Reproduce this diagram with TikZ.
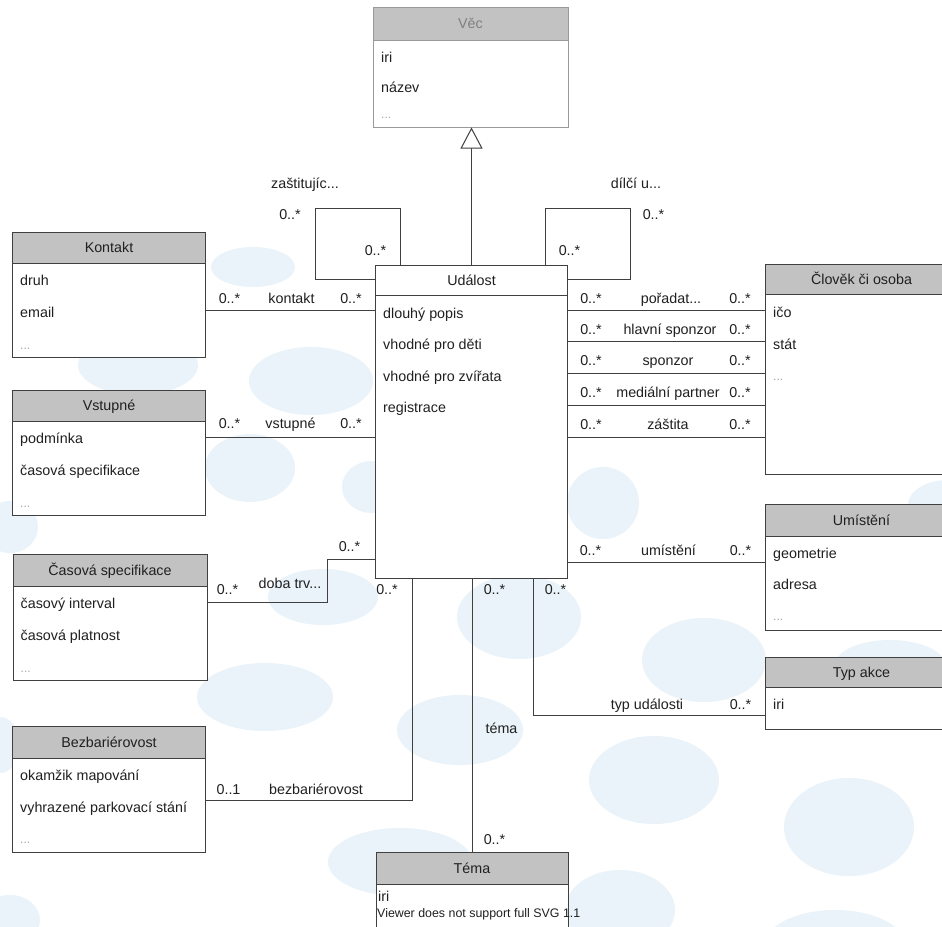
\documentclass[tikz,border=0pt]{standalone}
\usepackage{fontspec}
\setmainfont{Liberation Sans}
\usetikzlibrary{arrows.meta}
\definecolor{blob}{HTML}{E9F3F9}
\definecolor{hdr}{HTML}{C2C2C2}
\definecolor{ln}{HTML}{404040}
\definecolor{txt}{HTML}{202020}
\newcommand\umlclass[8]{%
  \node[box, minimum width=#4pt, minimum height=#5pt] (#1) at (#2,#3) {};
  \draw[draw=ln, line width=1pt, fill=#8] (#1.north west) rectangle ([yshift=-#6pt]#1.north east);
  \node[lbl, anchor=center] (#1-t) at ([yshift=-#6pt/2]#1.north) {#7};
}
\begin{document}
\begin{tikzpicture}[x=1pt,y=-1pt,
  box/.style={draw=ln, line width=1pt, fill=white, rectangle, inner sep=0pt, outer sep=0pt, anchor=north west},
  lbl/.style={inner sep=0pt, text height=10pt, text depth=0pt, font=\fontsize{14.3}{16}\selectfont, text=txt},
  attr/.style={lbl, anchor=west},
  dots/.style={inner sep=0pt, anchor=base west, font=\fontsize{12}{13}\selectfont, text=gray!70},
  conn/.style={draw=ln, line width=1pt},
  bl/.style={fill=blob}]
\useasboundingbox (0,0) rectangle (942,926);
\clip (0,0) rectangle (942,926);
\fill[white] (0,0) rectangle (942,926);
% background blobs
\fill[bl] (138,365) ellipse [x radius=60, y radius=30];
\fill[bl] (253,267) ellipse [x radius=42, y radius=20];
\fill[bl] (311,381) ellipse [x radius=62, y radius=34];
\fill[bl] (250,468) ellipse [x radius=45, y radius=34];
\fill[bl] (372,487) ellipse [x radius=30, y radius=26];
\fill[bl] (10,527) ellipse [x radius=28, y radius=26];
\fill[bl] (323,597) ellipse [x radius=55, y radius=28];
\fill[bl] (265,697) ellipse [x radius=68, y radius=34];
\fill[bl] (460,730) ellipse [x radius=63, y radius=35];
\fill[bl] (519,617) ellipse [x radius=62, y radius=42];
\fill[bl] (603,503) ellipse [x radius=36, y radius=36];
\fill[bl] (704,660) ellipse [x radius=62, y radius=42];
\fill[bl] (890,665) ellipse [x radius=55, y radius=25];
\fill[bl] (948,505) ellipse [x radius=40, y radius=25];
\fill[bl] (654,780) ellipse [x radius=65, y radius=44];
\fill[bl] (849,827) ellipse [x radius=65, y radius=49];
\fill[bl] (400,862) ellipse [x radius=72, y radius=34];
\fill[bl] (620,910) ellipse [x radius=55, y radius=40];
\fill[bl] (835,945) ellipse [x radius=70, y radius=35];
\fill[bl] (0,745) ellipse [x radius=20, y radius=28];
\fill[bl] (10,920) ellipse [x radius=30, y radius=25];

% Vec (gray)
\node[box, draw=gray!80, minimum width=195pt, minimum height=120pt] (vec) at (373,7.5) {};
\draw[draw=gray!80, line width=1pt, fill=hdr] (vec.north west) rectangle ([yshift=-32.5pt]vec.north east);
\node[lbl, anchor=center, text=gray] (vec-t) at ([yshift=-16.25pt]vec.north) {Věc};
\node[attr] at (381,57) {iri};
\node[attr] at (381,87) {název};
\node[dots] at (381,118) {...};

\umlclass{udalost}{375.5}{265}{192}{313}{30}{Událost}{white}
\node[attr] at (383,313) {dlouhý popis};
\node[attr] at (383,344) {vhodné pro děti};
\node[attr] at (383,376) {vhodné pro zvířata};
\node[attr] at (383,407) {registrace};

\umlclass{kontakt}{12.5}{232}{193}{125}{31}{Kontakt}{hdr}
\node[attr] at (20,280) {druh};
\node[attr] at (20,312) {email};
\node[dots] at (20,349) {...};

\umlclass{vstupne}{12.5}{390}{193}{125}{31}{Vstupné}{hdr}
\node[attr] at (20,438) {podmínka};
\node[attr] at (20,470) {časová specifikace};
\node[dots] at (20,507) {...};

\umlclass{casova}{13}{554}{194}{126}{32}{Časová specifikace}{hdr}
\node[attr] at (20.5,603) {časový interval};
\node[attr] at (20.5,635) {časová platnost};
\node[dots] at (20.5,672) {...};

\umlclass{bezbar}{12.5}{726}{193}{126}{32}{Bezbariérovost}{hdr}
\node[attr] at (20,775) {okamžik mapování};
\node[attr] at (20,807) {vyhrazené parkovací stání};
\node[dots] at (20,843) {...};

\umlclass{tema}{376}{852}{192}{100}{32}{Téma}{hdr}
\node[attr] at (378,896) {iri};
\node[inner sep=0pt, anchor=base west, font=\fontsize{12.4}{13}\selectfont, text=txt] at (377,917) {Viewer does not support full SVG 1.1};

\umlclass{clovek}{765.5}{264}{192}{210}{30}{Člověk či osoba}{hdr}
\node[attr] at (773,312) {ičo};
\node[attr] at (773,344) {stát};
\node[dots] at (773,380) {...};

\umlclass{umisteni}{765.5}{504}{192}{126}{32}{Umístění}{hdr}
\node[attr] at (773,553) {geometrie};
\node[attr] at (773,584) {adresa};
\node[dots] at (773,620) {...};

\umlclass{typakce}{765.5}{657}{192}{72}{30}{Typ akce}{hdr}
\node[attr] at (773,704.5) {iri};

% generalization
\draw[conn, -{Triangle[open, length=21pt, width=22pt, fill=white]}] (udalost.north) -- (udalost.north |- vec.south);

% self loops
\draw[conn] (udalost.west |- 0,279) -| (315.5,208) -| (udalost.north -| 400,0);
\node[lbl] at (305,183) {zaštitujíc...};
\node[lbl] at (290,214) {0..*};
\node[lbl] at (375.5,250) {0..*};
\draw[conn] (udalost.north -| 545.5,0) |- (630,208) |- (udalost.east |- 0,279);
\node[lbl] at (636,183) {dílčí u...};
\node[lbl] at (653.5,214) {0..*};
\node[lbl] at (569.5,250) {0..*};

% left associations
\draw[conn] (kontakt.east |- 0,310.6) -- (udalost.west |- 0,310.6);
\node[lbl] at (229.5,298) {0..*};
\node[lbl] at (291.5,298) {kontakt};
\node[lbl] at (351,298) {0..*};

\draw[conn] (vstupne.east |- 0,437) -- (udalost.west |- 0,437);
\node[lbl] at (229.5,423) {0..*};
\node[lbl] at (290.5,423) {vstupné};
\node[lbl] at (351,423) {0..*};

\draw[conn] (casova.east |- 0,602.5) -| (327.5,559) -- (udalost.west |- 0,559);
\node[lbl] at (227.5,589) {0..*};
\node[lbl] at (290,583) {doba trv...};
\node[lbl] at (349.5,546) {0..*};

\draw[conn] (bezbar.east |- 0,800) -| (udalost.south -| 412,0);
\node[lbl] at (228.5,789) {0..1};
\node[lbl] at (316,789) {bezbariérovost};
\node[lbl] at (387,589) {0..*};

% tema
\draw[conn] (udalost.south -| 472,0) -- (tema.north -| 472,0);
\node[lbl] at (494.5,589) {0..*};
\node[lbl] at (501.5,728) {téma};
\node[lbl] at (494.5,839) {0..*};

% typ udalosti
\draw[conn] (udalost.south -| 533.5,0) |- (typakce.west |- 0,715);
\node[lbl] at (555.5,589) {0..*};
\node[lbl] at (647,704) {typ události};
\node[lbl] at (740.5,704) {0..*};

% clovek associations
\draw[conn] (udalost.east |- 0,310.6) -- (clovek.west |- 0,310.6);
\node[lbl] at (591,298) {0..*};
\node[lbl] at (671,298) {pořadat...};
\node[lbl] at (740,298) {0..*};
\draw[conn] (udalost.east |- 0,341.5) -- (clovek.west |- 0,341.5);
\node[lbl] at (591,329) {0..*};
\node[lbl] at (670,329) {hlavní sponzor};
\node[lbl] at (740,329) {0..*};
\draw[conn] (udalost.east |- 0,373) -- (clovek.west |- 0,373);
\node[lbl] at (591,360.5) {0..*};
\node[lbl] at (668,360.5) {sponzor};
\node[lbl] at (740,360.5) {0..*};
\draw[conn] (udalost.east |- 0,405) -- (clovek.west |- 0,405);
\node[lbl] at (591,392.5) {0..*};
\node[lbl] at (668,392.5) {mediální partner};
\node[lbl] at (740,392.5) {0..*};
\draw[conn] (udalost.east |- 0,437) -- (clovek.west |- 0,437);
\node[lbl] at (591,424.5) {0..*};
\node[lbl] at (668,424.5) {záštita};
\node[lbl] at (740,424.5) {0..*};

% umisteni
\draw[conn] (udalost.east |- 0,562) -- (umisteni.west |- 0,562);
\node[lbl] at (590.5,550) {0..*};
\node[lbl] at (668.5,550) {umístění};
\node[lbl] at (740.5,550) {0..*};
\end{tikzpicture}
\end{document}
